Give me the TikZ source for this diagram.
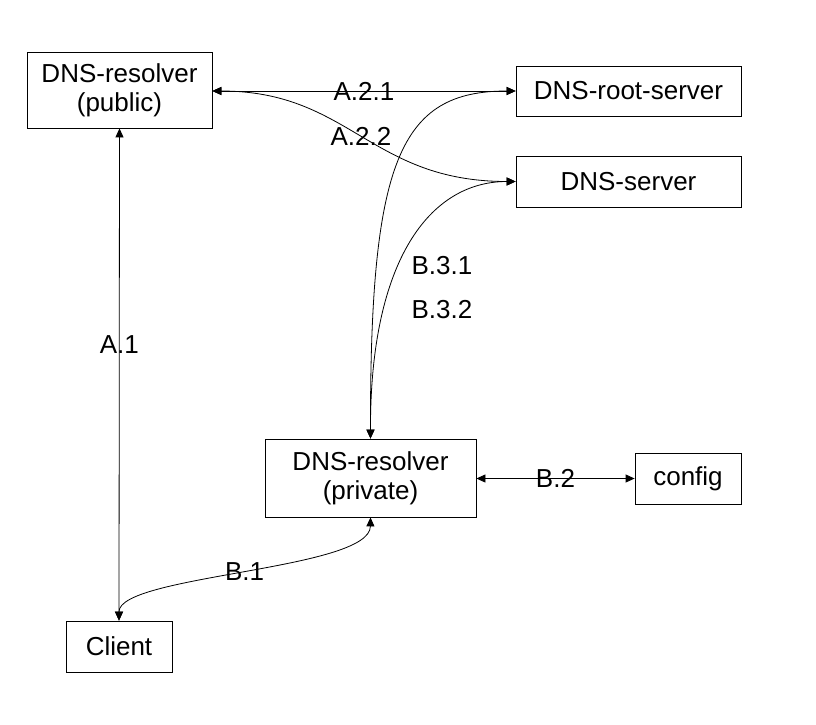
\documentclass[tikz,border=0pt]{standalone}
\usepackage{fontspec}
\setmainfont{Liberation Sans}
\usetikzlibrary{arrows.meta}
\begin{document}
\begin{tikzpicture}[x=1pt,y=-1pt,
  box/.style={draw,line width=0.8pt,inner sep=0pt,align=center,font=\fontsize{26}{29}\selectfont},
  link/.style={draw,line width=0.8pt,{Triangle[length=9pt,width=8pt]}-{Triangle[length=9pt,width=8pt]}},
  lbl/.style={inner sep=0pt,font=\fontsize{26}{29}\selectfont}]
\useasboundingbox (0,0) rectangle (816,725);
\node[box,minimum width=185pt,minimum height=76pt] (pub) at (119.5,90) {DNS-resolver\\(public)};
\node[box,minimum width=225pt,minimum height=50pt] (root) at (628.5,91) {DNS-root-server};
\node[box,minimum width=225pt,minimum height=51pt] (srv) at (628.5,181.5) {DNS-server};
\node[box,minimum width=211pt,minimum height=78pt] (priv) at (370.5,478) {DNS-resolver\\(private)};
\node[box,minimum width=106pt,minimum height=51pt] (conf) at (688,478.5) {config};
\node[box,minimum width=106pt,minimum height=51pt] (cli) at (119,646.5) {Client};
\path[link] (pub.south) -- node[lbl,pos=0.44] {A.1} (cli.north);
\path[link] (pub.east |- root.west) -- node[lbl] {A.2.1} (root.west);
\path[link] (pub.east |- root.west) .. controls (350,91) and (370,181.5) .. node[lbl] {A.2.2} (srv.west);
\path[link] (priv.north) .. controls (370,160) and (400,91) .. (root.west);
\path[link] (priv.north) .. controls (370,260) and (430,181.5) .. (srv.west);
\node[lbl] (b31) at (442,266) {B.3.1};
\node[lbl] (b32) at (442,310) {B.3.2};
\path[link] (priv.east |- conf.west) -- node[lbl] {B.2} (conf.west);
\path[link] (cli.north) .. controls (119,575) and (370,570) .. node[lbl] {B.1} (priv.south);
\end{tikzpicture}
\end{document}
